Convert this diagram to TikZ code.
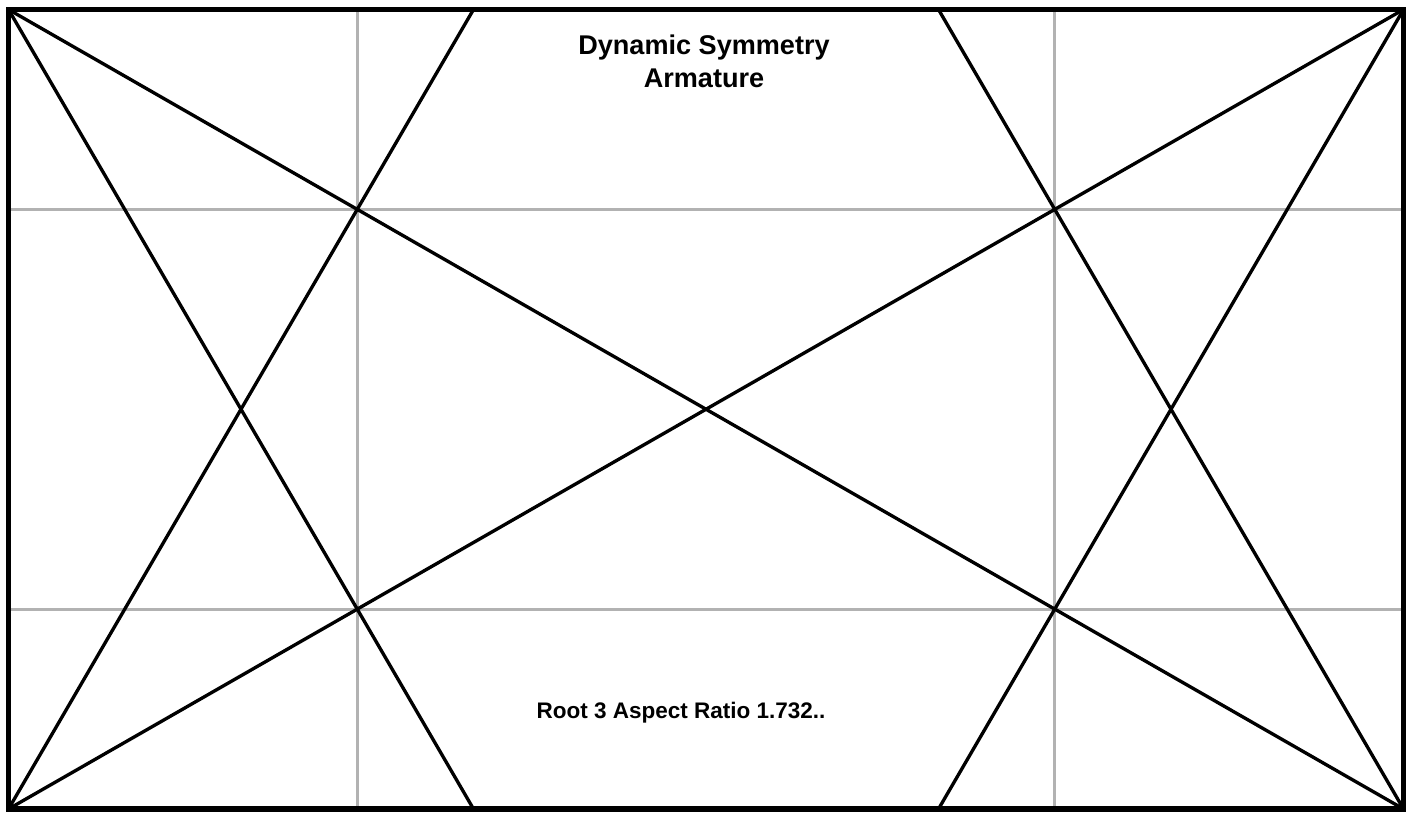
\documentclass[tikz,border=0pt]{standalone}
\usepackage{fontspec}
\setmainfont{Liberation Sans}
\usetikzlibrary{calc}
\tikzset{frame/.style={black,line width=1.45pt},
  guide/.style={black!30,line width=0.85pt},
  armline/.style={black,line width=0.95pt},
  title/.style={font=\bfseries\fontsize{7.7}{9.1}\selectfont,align=center,inner sep=0}}

\begin{document}
\begin{tikzpicture}[x=0.01cm,y=-0.01cm]
\useasboundingbox (0,0) rectangle (1413,812);
\fill[white] (0,0) rectangle (1413,812);
\coordinate (tl) at (8.5,9.5);
\coordinate (tr) at (1403.5,9.5);
\coordinate (bl) at (8.5,809);
\coordinate (br) at (1403.5,809);
% quarter lines
\foreach \f in {0.25,0.75} {
 \draw[guide] ($(tl)!\f!(tr)$) -- ($(bl)!\f!(br)$);
 \draw[guide] ($(tl)!\f!(bl)$) -- ($(tr)!\f!(br)$);
}
% diagonals
\draw[armline] (tl) -- (br);
\draw[armline] (bl) -- (tr);
% reciprocals
\draw[armline] (tl) -- ($(bl)!1/3!(br)$);
\draw[armline] (bl) -- ($(tl)!1/3!(tr)$);
\draw[armline] (tr) -- ($(bl)!2/3!(br)$);
\draw[armline] (br) -- ($(tl)!2/3!(tr)$);
\draw[frame] (tl) rectangle (br);
\node[title,anchor=base] (top) at (704,87) {Dynamic Symmetry\\Armature};
\node[title,anchor=base,font=\bfseries\fontsize{6.4}{8}\selectfont] (ratio) at (681,718) {Root 3 Aspect Ratio 1.732..};
\end{tikzpicture}
\end{document}
